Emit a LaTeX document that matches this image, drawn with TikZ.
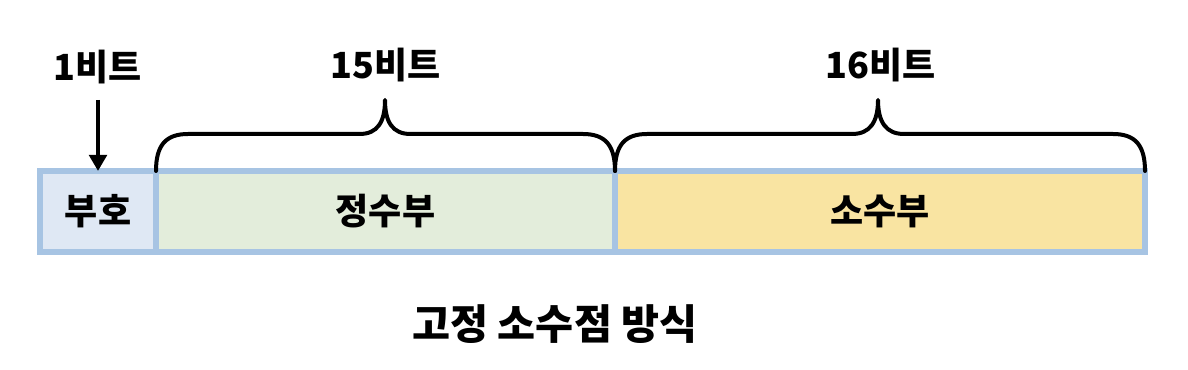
\documentclass[tikz,border=0pt]{standalone}
\usepackage{fontspec}
\newfontfamily\kofont{Noto Sans CJK KR}
\usetikzlibrary{arrows.meta,calc}
\definecolor{fieldline}{HTML}{A7C4E3}
\definecolor{signfill}{HTML}{DFE8F4}
\definecolor{intfill}{HTML}{E3EDDB}
\definecolor{fracfill}{HTML}{F9E4A2}
\tikzset{every picture/.style={line width=0.75pt}}

\begin{document}
\begin{tikzpicture}[x=0.75pt,y=0.75pt,yscale=-1,xscale=1,
	field/.style={draw=fieldline,line width=4.5pt,outer sep=0pt,minimum height=60.75pt,inner sep=0pt},
	txt/.style={inner sep=0.75pt,font=\kofont\bfseries\fontsize{27}{32}\selectfont},
	brace/.style={line width=3pt,line cap=round,line join=round},
	arr/.style={line width=3pt,-{Triangle[length=12pt,width=13pt]}}]
	\useasboundingbox (0,0) rectangle (1188,370);
	
	%Fields
	\node [field,fill=signfill,minimum width=87pt] (sign) at (98,211.5) {};
	\node [field,fill=intfill,minimum width=344.25pt] (intpart) at (385.5,211.5) {};
	\node [field,fill=fracfill,minimum width=397.5pt] (fracpart) at (880,211.5) {};
	
	% Text Node
	\node [txt] (tsign) at (sign) {부호};
	% Text Node
	\node [txt] (tint) at (intpart) {정수부};
	% Text Node
	\node [txt] (tfrac) at (fracpart) {소수부};
	% Text Node
	\node [txt] (l1) at (98,67) {1비트};
	% Text Node
	\node [txt] (l15) at (386,65) {15비트};
	% Text Node
	\node [txt] (l16) at (881,65) {16비트};
	% Text Node
	\node [txt,font=\kofont\bfseries\fontsize{31}{36}\selectfont] (title) at (555,324) {고정 소수점 방식};
	
	%Arrow
	\draw [arr] (98,100) -- (sign.north);
	
	%Brace 15
	\draw [brace] (intpart.north west) .. controls +(0,-26) and +(-22,0) .. ++(32,-37) -- ($(intpart.north)+(-26,-37)$) .. controls +(18,0) and +(0,22) .. ($(intpart.north)+(-0.5,-71)$) .. controls +(0,22) and +(-18,0) .. ($(intpart.north)+(25,-37)$) -- ($(intpart.north east)+(-32,-37)$) .. controls +(22,0) and +(0,-26) .. (intpart.north east);
	%Brace 16
	\draw [brace] (fracpart.north west) .. controls +(0,-26) and +(-22,0) .. ++(32,-37) -- ($(fracpart.north)+(-28,-37)$) .. controls +(18,0) and +(0,22) .. ($(fracpart.north)+(-2,-71)$) .. controls +(0,22) and +(-18,0) .. ($(fracpart.north)+(24,-37)$) -- ($(fracpart.north east)+(-32,-37)$) .. controls +(22,0) and +(0,-26) .. (fracpart.north east);
	
\end{tikzpicture}
\end{document}
